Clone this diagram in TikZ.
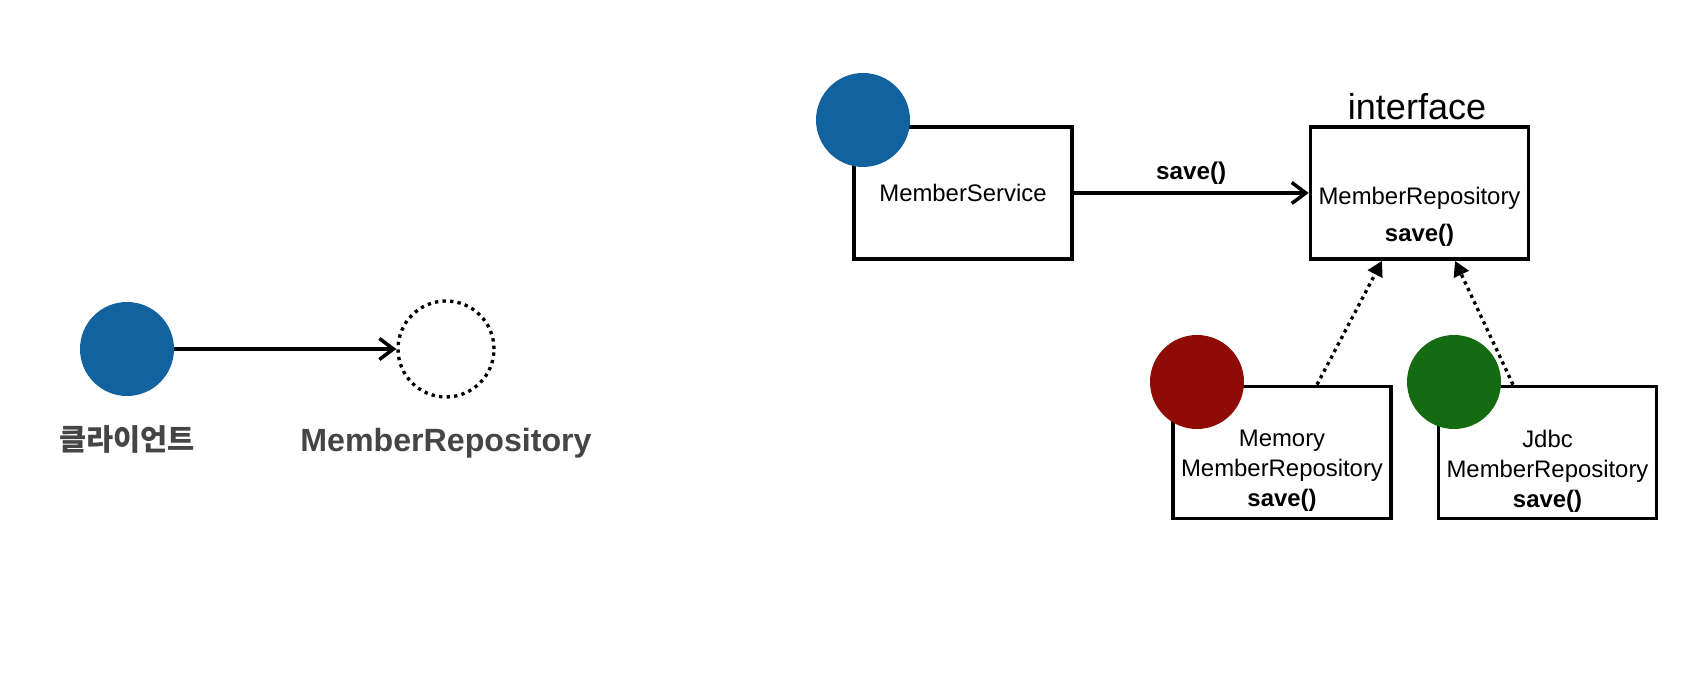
\documentclass[tikz,border=0pt]{standalone}
\usepackage{fontspec}
\setmainfont{Liberation Sans}
\newfontfamily\krfont{Noto Sans CJK KR}
\usepackage{xcolor}
\usetikzlibrary{arrows.meta,positioning,calc}
\definecolor{ink}{HTML}{000000}
\definecolor{objblue}{HTML}{11629F}
\definecolor{objred}{HTML}{8F0B06}
\definecolor{objgreen}{HTML}{156B12}
\definecolor{labelgray}{HTML}{454545}
\tikzset{
  obj/.style={circle,minimum size=1.88cm,inner sep=0pt},
  classbox/.style={draw=ink,fill=white,line width=2.1pt,minimum width=4.36cm,
                   minimum height=2.64cm,inner sep=0pt,
                   font=\fontsize{13.6}{17}\selectfont},
  boxtext/.style={align=center,inner sep=0pt,font=\fontsize{13.6}{17}\selectfont},
  biglabel/.style={text=labelgray,font=\fontsize{18.3}{22}\selectfont\bfseries},
  callarr/.style={-{Straight Barb[length=2.8mm,width=4.2mm]},line width=2pt,
                  draw=ink},
  implarr/.style={-{Triangle[length=3mm,width=3.2mm]},line width=1.9pt,
                  dash pattern=on 1.9pt off 2.3pt,draw=ink}
}

\begin{document}
\begin{tikzpicture}[x=1cm,y=1cm]
  \path[use as bounding box] (0,0) rectangle (34.1,13.78);
  % left: client and an unknown repository
  \node[obj,fill=objblue] (client) at (2.54,6.80) {};
  \node[obj,draw=ink,line width=1.9pt,dash pattern=on 1.9pt off 2.4pt,
        minimum size=1.92cm] (repo) at (8.92,6.80) {};
  \draw[callarr] (client) -- (repo);
  \node[biglabel,font=\krfont\fontsize{16.8}{20}\selectfont\bfseries]
    (clientlabel) at (2.54,5.00) {클라이언트};
  \node[biglabel] (repolabel) at (8.92,4.92) {MemberRepository};
  % right: service, interface and implementations
  \node[classbox] (svc) at (19.26,9.92) {MemberService};
  \node[classbox] (iface) at (28.39,9.92) {};
  \node[font=\fontsize{20.5}{24}\selectfont] (ifacelabel) at (28.34,11.64) {interface};
  \node[boxtext] (ifacetext) at (28.39,9.45)
    {MemberRepository\\[4pt]\textbf{save()}};
  \node[classbox] (mem) at (25.64,4.73) {};
  \node[boxtext] (memtext) at (25.64,4.36)
    {Memory\\MemberRepository\\\textbf{save()}};
  \node[classbox] (jdbc) at (30.95,4.73) {};
  \node[boxtext] (jdbctext) at (30.95,4.36)
    {Jdbc\\MemberRepository\\\textbf{save()}};
  \node[obj,fill=objblue] (svcobj) at (17.26,11.38) {};
  \node[obj,fill=objred] (memobj) at (23.94,6.14) {};
  \node[obj,fill=objgreen] (jdbcobj) at (29.08,6.14) {};
  \draw[callarr] (svc) -- node[above,inner sep=4pt,
    font=\fontsize{13.8}{17}\selectfont\bfseries] (calllabel) {save()} (iface);
  \draw[implarr] ([xshift=0.70cm]mem.north) -- ([xshift=-0.75cm]iface.south);
  \draw[implarr] ([xshift=-0.69cm]jdbc.north) -- ([xshift=0.71cm]iface.south);
\end{tikzpicture}
\end{document}
